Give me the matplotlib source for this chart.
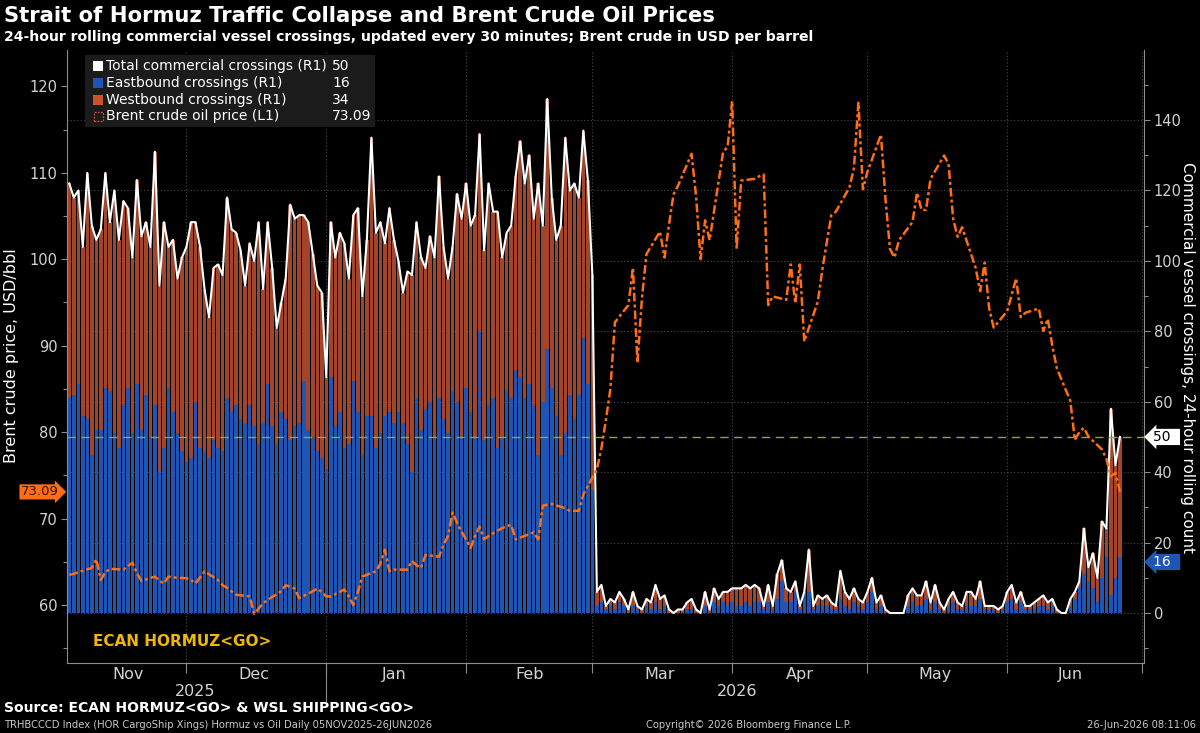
import pandas as pd
import matplotlib
matplotlib.use("Agg")
import matplotlib.pyplot as plt
import matplotlib.dates as mdates
from matplotlib.patches import Rectangle
from matplotlib.lines import Line2D
from matplotlib.transforms import blended_transform_factory

plt.rcParams["font.family"] = ["DejaVu Sans"]
NARROW = ["Liberation Sans Narrow", "DejaVu Sans Condensed", "DejaVu Sans"]

# ---- data ----
crossing_dates = pd.date_range("2025-11-05", "2026-06-26", freq="D")
oil_dates = pd.bdate_range("2025-11-05", "2026-06-26")

# 24h rolling total crossings (R1), Nov 5 .. Mar 1 then Mar 2 .. Jun 26
total_crossings = [
    122, 118, 120, 104, 125, 110, 106, 109, 125, 111, 120,
    106, 117, 115, 101, 123, 107, 111, 104, 131, 93,
    111, 104, 106, 95, 101, 104, 111, 111, 104, 92,
    84, 98, 99, 96, 118, 109, 108, 103, 93, 105,
    100, 111, 92, 111, 98, 81, 88, 95, 116, 112,
    113, 113, 111, 102, 93, 91, 67, 111, 101, 108,
    105, 95, 113, 115, 90, 106, 135, 108, 111, 105,
    115, 106, 100, 91, 97, 96, 111, 101, 98, 107,
    101, 124, 104, 95, 104, 119, 112, 122, 110, 113,
    136, 103, 122, 114, 114, 101, 108, 110, 124, 134,
    122, 130, 112, 122, 110, 146, 118, 106, 110, 135,
    120, 122, 118, 137, 123, 96,
    6, 8, 2, 4, 3, 6, 4, 1, 6, 2,
    1, 4, 3, 8, 4, 5, 1, 0, 1, 1,
    3, 4, 1, 0, 6, 1, 7, 4, 6, 6,
    7, 7, 7, 8, 7, 8, 7, 2, 8, 2,
    11, 15, 7, 6, 9, 2, 6, 18, 2, 5,
    4, 5, 3, 2, 12, 6, 4, 7, 4, 3,
    6, 10, 3, 5, 1, 0, 0, 0, 0, 5,
    7, 5, 5, 9, 3, 8, 3, 1, 4, 6,
    3, 2, 6, 6, 4, 9, 2, 2, 2, 1,
    2, 6, 8, 3, 6, 2, 2, 3, 4, 5,
    3, 4, 1, 0, 0, 4, 6, 9, 24, 13,
    17, 10, 26, 24, 58, 42, 50,
]

eastbound = [
    61, 62, 65, 56, 55, 45, 52, 52, 64, 63, 51,
    47, 59, 64, 51, 65, 52, 62, 50, 59, 40,
    47, 64, 57, 51, 46, 43, 44, 60, 47, 46,
    44, 49, 47, 46, 61, 57, 59, 55, 54, 59,
    53, 48, 54, 65, 53, 48, 57, 55, 49, 53,
    54, 66, 52, 50, 46, 44, 41, 67, 53, 57,
    47, 48, 66, 57, 45, 56, 56, 47, 51, 56,
    57, 54, 57, 54, 48, 40, 61, 52, 58, 60,
    50, 61, 55, 51, 63, 60, 50, 64, 57, 50,
    80, 49, 59, 61, 47, 50, 63, 61, 69, 67,
    61, 65, 59, 45, 60, 75, 64, 56, 45, 51,
    62, 55, 62, 78, 65, 35,
    2, 3, 1, 2, 1, 3, 2, 0, 2, 1,
    0, 2, 1, 3, 1, 2, 0, 0, 0, 0,
    1, 1, 0, 0, 2, 0, 3, 2, 3, 2,
    3, 2, 2, 3, 2, 3, 3, 1, 3, 1,
    4, 9, 3, 3, 6, 1, 6, 6, 1, 2,
    2, 2, 1, 1, 4, 2, 1, 3, 2, 1,
    3, 6, 1, 2, 0, 0, 0, 0, 0, 2,
    3, 2, 2, 4, 1, 3, 1, 0, 2, 3,
    1, 1, 2, 2, 2, 4, 1, 1, 1, 0,
    1, 3, 4, 1, 3, 1, 1, 1, 2, 2,
    1, 2, 0, 0, 0, 2, 4, 7, 11, 9,
    7, 3, 10, 16, 5, 10, 16,
]

# Brent crude, USD/bbl (L1), trading days
brent = [
    63.5, 63.6, 63.8,
    64.3, 65.3, 62.9, 63.8, 64.2,
    64.1, 64.5, 64.9, 63.7, 62.8,
    63.3, 62.8, 62.5, 63.3, 63.2,
    63.1, 62.9, 62.5, 63.2, 63.9,
    62.9, 62.3, 62.0, 61.6, 61.2,
    61.0, 59.0, 59.6, 60.2, 60.6,
    61.6, 62.3, 62.1, 61.9, 60.8,
    61.6, 61.9, 61.5, 61.0, 61.0,
    61.8, 61.0, 60.0, 61.5, 63.3,
    63.9, 64.8, 66.4, 63.9, 64.1,
    64.1, 65.1, 64.6, 64.3, 65.8,
    65.6, 67.0, 68.0, 70.7, 69.5,
    66.6, 68.0, 69.1, 67.6, 68.0,
    68.9, 69.1, 69.3, 67.6, 67.8,
    68.4, 67.6, 71.5, 71.6, 71.7,
    71.2, 70.9, 70.9, 70.9, 72.8,
    75.7, 78.1, 81.4, 85.0, 92.7,
    94.7, 99.0, 88.0, 95.5, 100.6,
    103.2, 100.2, 104.0, 107.5, 108.5,
    112.2, 107.3, 100.0, 104.5, 102.2,
    112.4, 113.0,
    118.3, 101.2, 109.1,
    109.3, 109.6, 109.8, 94.7, 95.7,
    95.3, 99.4, 94.9, 99.4, 90.5,
    95.1, 98.8, 102.0, 105.1, 105.5,
    108.3, 110.5, 118.1, 108.1,
    110.1,
    114.4, 107.0, 101.2, 100.2, 102.2,
    104.3, 107.7, 105.7, 105.7, 109.3,
    112.0, 111.0, 104.7, 102.6, 103.7,
    99.0, 96.3, 99.6, 94.3, 92.1,
    94.0, 95.9, 97.8, 93.3, 93.8,
    94.3, 91.7, 93.1, 90.0, 87.4,
    83.6, 79.1, 80.0, 80.5, 79.5,
    78.0, 76.9, 74.9, 75.3, 73.09,
]

westbound = [t - e for t, e in zip(total_crossings, eastbound)]

month_labels = ["Nov", "Dec", "Jan", "Feb", "Mar", "Apr", "May", "Jun"]
month_label_dates = ["2025-11-18", "2025-12-16", "2026-01-16", "2026-02-15",
                     "2026-03-16", "2026-04-16", "2026-05-16", "2026-06-15"]
month_starts = pd.date_range("2025-12-01", "2026-07-01", freq="MS")

# ---- colours ----
BLUE = "#1f55b5"
BROWN = "#a3452a"
BROWN_KEY = "#cc5229"
ORANGE = "#ff6d14"
GREEN = "#8aa84a"
TICK = "#8c8c8c"
LABEL = "#d2d2d2"

W, H = 1200, 733
L, R, T, B = 67, 1144, 50, 663

fig = plt.figure(figsize=(12, 7.33), dpi=100, facecolor="black")
ax = fig.add_axes([L / W, 1 - B / H, (R - L) / W, (B - T) / H])
ax2 = ax.twinx()
ax.set_zorder(3)
ax2.set_zorder(2)
ax.patch.set_visible(False)
ax2.patch.set_visible(True)
ax2.patch.set_facecolor("black")

xc = mdates.date2num(crossing_dates)
xo = mdates.date2num(oil_dates)

# grid (under the bars)
ax2.set_axisbelow(True)
ax2.grid(axis="y", which="major", color="#4a4a4a", linestyle=(0, (1, 2)), lw=0.8)
for d in month_starts:
    ax2.axvline(mdates.date2num(d), color="#4a4a4a", linestyle=(0, (1, 2)), lw=0.8, zorder=0)

ax2.bar(xc, eastbound, width=0.78, color=BLUE, linewidth=0, zorder=2)
ax2.bar(xc, westbound, bottom=eastbound, width=0.78, color=BROWN, linewidth=0, zorder=2)
ax2.plot(xc, total_crossings, color="white", lw=1.5, zorder=3)
ax2.axhline(total_crossings[-1], color=GREEN, lw=1.0, linestyle=(0, (6, 4)), zorder=4)

ax.plot(xo, brent, color=ORANGE, lw=1.8, linestyle=(0, (3.5, 1.2, 1.2, 1.2)), zorder=5)

# axes limits
ax.set_xlim(mdates.date2num(pd.Timestamp("2025-11-04 12:00")),
            mdates.date2num(pd.Timestamp("2026-07-01 08:00")))
ax.set_ylim(53.3, 124.2)
ax2.set_ylim(-14.2, 159.9)

# y ticks
ax.set_yticks(range(60, 121, 10))
ax.set_yticks(range(55, 125, 5), minor=True)
ax2.set_yticks(range(0, 141, 20))
ax2.set_yticks(range(-10, 160, 10), minor=True)
for a in (ax, ax2):
    a.tick_params(axis="y", which="major", direction="out", length=4, width=0.8,
                  color=TICK, labelcolor=LABEL, labelsize=10.5, pad=3)
    a.tick_params(axis="y", which="minor", direction="out", length=3, width=0.8, color=TICK)

# x ticks: month boundaries, labels centred in the month
ax.set_xticks(mdates.date2num(month_starts))
ax.set_xticklabels([])
ax.tick_params(axis="x", which="major", direction="out", length=7, width=0.8, color=TICK)
xt = blended_transform_factory(ax.transData, ax.transAxes)
for lab, d in zip(month_labels, month_label_dates):
    ax.text(mdates.date2num(pd.Timestamp(d)), -0.018, lab, transform=xt, ha="center",
            va="center", color=LABEL, fontsize=11.5, family=NARROW)
ax.text(mdates.date2num(pd.Timestamp("2025-12-03")), -0.046, "2025", transform=xt,
        ha="center", va="center", color=LABEL, fontsize=11.5, family=NARROW)
ax.text(mdates.date2num(pd.Timestamp("2026-04-02")), -0.046, "2026", transform=xt,
        ha="center", va="center", color=LABEL, fontsize=11.5, family=NARROW)
jan1 = mdates.date2num(pd.Timestamp("2026-01-01"))
ax.add_line(Line2D([jan1, jan1], [0, -0.062], transform=xt, color=TICK, lw=0.8, clip_on=False))

# spines
for s in ("top", "right"):
    ax.spines[s].set_visible(False)
for s in ("top", "left", "bottom"):
    ax2.spines[s].set_visible(False)
ax.spines["left"].set_color(TICK)
ax.spines["bottom"].set_color(TICK)
ax2.spines["right"].set_color(TICK)

# value tags on the axes
yl = blended_transform_factory(ax.transAxes, ax.transData)
ax.text(-0.008, brent[-1], f"{brent[-1]:.2f}", transform=yl, ha="right", va="center",
        fontsize=9.5, color="#3a1200", clip_on=False,
        bbox=dict(boxstyle="rarrow,pad=0.08", fc=ORANGE, ec="none"))
yr = blended_transform_factory(ax2.transAxes, ax2.transData)
ax2.text(1.008, total_crossings[-1], f"{total_crossings[-1]}  ", transform=yr, ha="left",
         va="center", fontsize=10, color="black", clip_on=False,
         bbox=dict(boxstyle="larrow,pad=0.08", fc="white", ec="none"))
ax2.text(1.008, eastbound[-1] - 1.5, f"{eastbound[-1]}  ", transform=yr, ha="left",
         va="center", fontsize=10, color="white", clip_on=False,
         bbox=dict(boxstyle="larrow,pad=0.08", fc=BLUE, ec="none"))

# axis titles
fig.text(12 / W, 1 - 356 / H, "Brent crude price, USD/bbl", rotation=90, ha="center",
         va="center", color="white", fontsize=11.5)
fig.text(1188 / W, 1 - 357 / H, "Commercial vessel crossings, 24-hour rolling count",
         rotation=270, ha="center", va="center", color="white", fontsize=11)

# legend
def fx(x):
    return x / W

def fy(y):
    return 1 - y / H

fig.add_artist(Rectangle((fx(85), fy(127)), fx(375) - fx(85), fy(55) - fy(127),
                         transform=fig.transFigure, fc="#1b1b1b", ec="none", zorder=15))
rows = [
    ("Total commercial crossings (R1)", "white", str(total_crossings[-1])),
    ("Eastbound crossings (R1)", BLUE, str(eastbound[-1])),
    ("Westbound crossings (R1)", BROWN_KEY, str(westbound[-1])),
    ("Brent crude oil price (L1)", None, f"{brent[-1]:.2f}"),
]
for i, (lab, col, val) in enumerate(rows):
    yc = 66 + i * 16.8
    if col is None:
        fig.add_artist(Rectangle((fx(94), fy(yc + 4.5)), 9 / W, 9 / H, transform=fig.transFigure,
                                 fc="none", ec="#c0503a", lw=0.9, ls=(0, (1.5, 1)), zorder=16))
    else:
        fig.add_artist(Rectangle((fx(93), fy(yc + 5)), 10 / W, 10 / H, transform=fig.transFigure,
                                 fc=col, ec="none", zorder=16))
    fig.text(fx(106), fy(yc), lab, ha="left", va="center", color="white", fontsize=10, zorder=17)
    fig.text(fx(332), fy(yc), val, ha="left", va="center", color="white", fontsize=10, zorder=17)

# chart annotations
fig.text(fx(93), fy(641), "ECAN HORMUZ<GO>", color="#f2b705", fontsize=11,
         fontweight="bold", family=NARROW, ha="left", va="center", zorder=20)

# titles
fig.text(fx(4), fy(16), "Strait of Hormuz Traffic Collapse and Brent Crude Oil Prices",
         color="white", fontsize=15.2, fontweight="bold", ha="left", va="center")
fig.text(fx(4), fy(37), "24-hour rolling commercial vessel crossings, updated every 30 minutes; "
         "Brent crude in USD per barrel", color="white", fontsize=10.1, fontweight="bold",
         ha="left", va="center")

# footer
fig.text(fx(4), fy(708), "Source: ECAN HORMUZ<GO> & WSL SHIPPING<GO>", color="white",
         fontsize=10, fontweight="bold", ha="left", va="center")
fig.text(fx(4), fy(725), "TRHBCCCD Index (HOR CargoShip Xings) Hormuz vs Oil Daily "
         "05NOV2025-26JUN2026", color="#c8c8c8", fontsize=7.2, family=NARROW,
         ha="left", va="center")
fig.text(fx(749), fy(725), "Copyright\u00a9 2026 Bloomberg Finance L.P.", color="#c8c8c8",
         fontsize=7.2, family=NARROW, ha="center", va="center")
fig.text(fx(1196), fy(725), "26-Jun-2026 08:11:06", color="#c8c8c8", fontsize=7.2,
         family=NARROW, ha="right", va="center")

fig.savefig("out.png", dpi=100, facecolor="black")
